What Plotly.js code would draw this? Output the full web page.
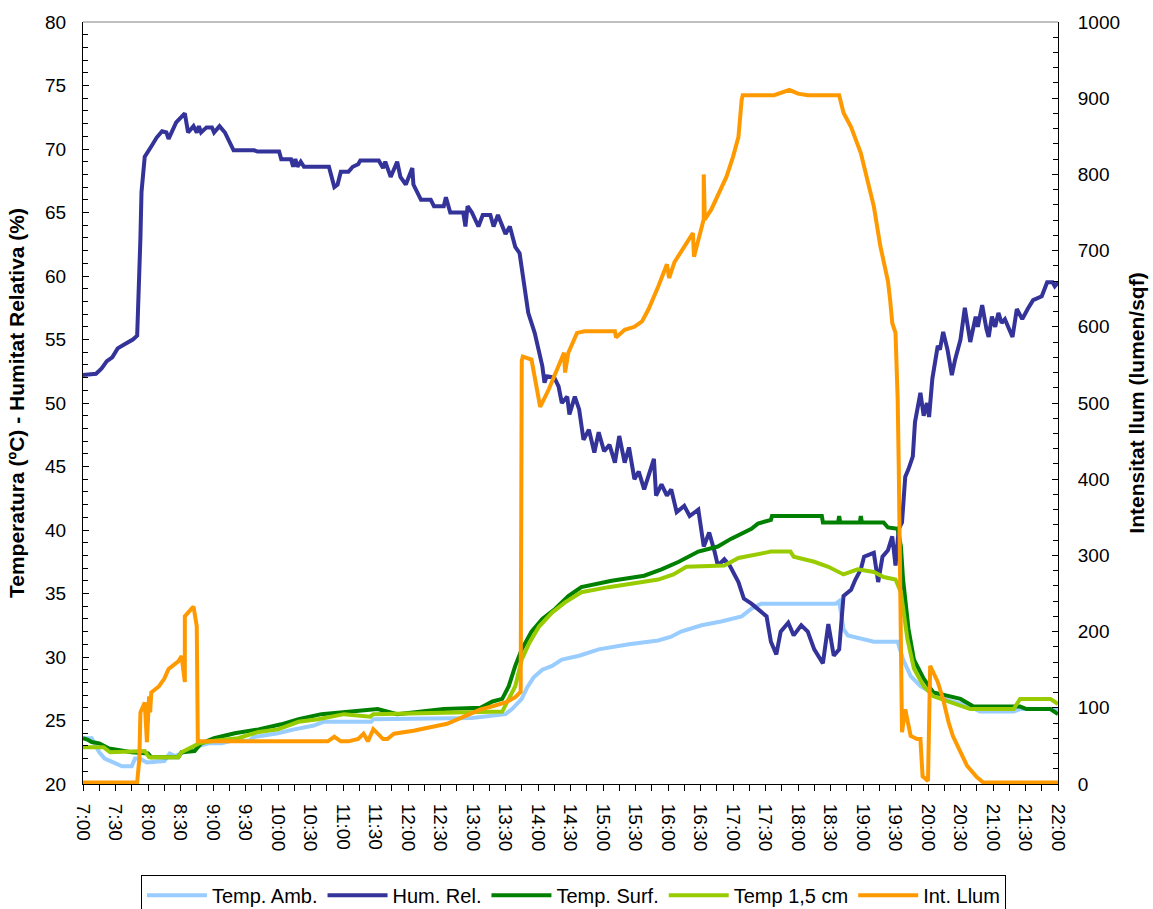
<!DOCTYPE html>
<html><head><meta charset="utf-8">
<script src="https://cdn.plot.ly/plotly-3.0.1.min.js"></script>
<style>html,body{margin:0;padding:0;background:#fff}</style>
</head><body><div id="chart" style="width:1153px;height:909px"></div>
<script>
const tickLabels = ["7:00","7:30","8:00","8:30","9:00","9:30","10:00","10:30","11:00","11:30","12:00","12:30","13:00","13:30","14:00","14:30","15:00","15:30","16:00","16:30","17:00","17:30","18:00","18:30","19:00","19:30","20:00","20:30","21:00","21:30","22:00"];

const ambTime = ["7:00","7:08","7:15","7:20","7:28","7:36","7:45","7:48","7:52","7:59","8:15","8:20","8:25","8:31","8:37","8:47","8:56","9:08","9:17","9:33","9:38","10:00","10:15","10:33","10:42","11:26","11:28","12:59","13:30","13:36","13:45","13:50","13:56","14:04","14:13","14:22","14:38","14:56","15:24","15:51","16:03","16:12","16:31","16:49","17:08","17:17","17:26","18:35","18:38","18:42","18:46","19:10","19:32","19:37","19:44","19:53","20:14","20:36","20:48","21:19","21:25","22:00"];
const ambVal = [23.6,23.6,22.5,22.0,21.7,21.4,21.4,22.0,22.0,21.7,21.8,22.4,22.2,22.4,22.6,23.0,23.2,23.2,23.4,23.4,23.7,24.0,24.3,24.6,24.9,24.9,25.1,25.2,25.5,25.9,26.7,27.6,28.4,29.0,29.3,29.8,30.1,30.6,31.0,31.3,31.6,32.0,32.5,32.8,33.2,33.8,34.2,34.2,34.4,32.2,31.7,31.2,31.2,29.8,28.5,27.7,26.7,26.2,25.7,25.7,25.9,25.9];

const humTime = ["7:00","7:12","7:17","7:22","7:27","7:32","7:38","7:46","7:50","7:51","7:52","7:53","7:54","7:57","8:03","8:08","8:13","8:17","8:19","8:22","8:26","8:34","8:37","8:42","8:45","8:47","8:49","8:54","8:59","9:01","9:06","9:11","9:15","9:19","9:38","9:41","10:01","10:03","10:12","10:14","10:16","10:18","10:21","10:24","10:47","10:52","10:55","10:58","11:05","11:09","11:14","11:16","11:33","11:37","11:39","11:44","11:50","11:53","11:58","12:04","12:05","12:12","12:21","12:24","12:33","12:35","12:39","12:51","12:53","12:55","12:59","13:05","13:09","13:16","13:19","13:23","13:30","13:34","13:39","13:43","13:51","13:55","13:57","14:04","14:06","14:08","14:15","14:19","14:22","14:27","14:29","14:34","14:38","14:42","14:47","14:52","14:56","15:01","15:06","15:11","15:15","15:20","15:24","15:29","15:33","15:38","15:47","15:49","15:54","15:59","16:03","16:08","16:15","16:20","16:28","16:33","16:38","16:43","16:46","16:52","16:57","17:05","17:10","17:17","17:26","17:31","17:35","17:40","17:44","17:51","17:56","18:03","18:09","18:15","18:23","18:28","18:33","18:38","18:42","18:49","18:53","18:58","19:01","19:10","19:14","19:18","19:23","19:27","19:30","19:33","19:36","19:39","19:42","19:46","19:48","19:53","19:56","19:59","20:01","20:04","20:09","20:11","20:14","20:18","20:22","20:25","20:30","20:34","20:39","20:44","20:46","20:50","20:54","20:56","20:59","21:02","21:05","21:08","21:11","21:16","21:18","21:22","21:27","21:32","21:37","21:45","21:50","21:55","21:57","22:00"];
const humVal = [52.2,52.3,52.7,53.3,53.6,54.3,54.6,55.0,55.3,57.5,59.7,63.0,66.6,69.4,70.2,70.9,71.4,71.3,70.8,71.4,72.1,72.8,71.3,71.8,71.3,71.8,71.3,71.7,71.7,71.3,71.8,71.3,70.5,69.9,69.9,69.8,69.8,69.2,69.2,68.6,69.2,68.6,69.0,68.6,68.6,67.0,67.2,68.2,68.2,68.6,68.8,69.1,69.1,68.5,69.0,67.8,69.0,67.8,67.2,68.5,67.2,66.0,66.0,65.5,65.5,66.2,65.0,65.0,63.9,65.5,65.0,63.9,64.8,64.8,63.9,64.8,63.3,63.9,62.3,61.8,57.1,56.0,55.5,52.9,51.6,52.1,52.0,51.3,50.0,50.5,49.1,50.5,49.5,47.1,47.9,46.1,47.7,46.2,46.7,45.3,47.4,45.3,46.5,44.0,44.6,43.2,45.6,42.7,43.6,42.7,43.2,41.4,41.9,41.1,41.6,38.7,39.8,38.3,37.2,37.7,37.2,35.9,34.6,34.2,33.5,33.2,31.2,30.2,32.0,32.7,31.7,32.5,32.0,30.6,29.5,32.6,30.1,30.6,34.8,35.3,36.1,36.9,37.9,38.2,35.9,37.9,38.4,39.5,37.2,40.1,40.6,44.2,44.8,45.8,48.5,50.8,49.0,50.0,48.9,51.9,54.5,54.2,55.6,54.2,52.2,53.4,55.0,57.5,54.8,56.8,56.0,57.7,55.8,55.2,56.8,56.0,57.1,56.3,56.6,55.5,55.2,57.4,56.6,57.4,58.1,58.4,59.5,59.5,59.2,59.5];

const surfTime = ["7:00","7:04","7:08","7:15","7:24","7:45","8:00","8:03","8:28","8:31","8:43","8:49","9:01","9:20","9:42","10:03","10:19","10:40","11:32","11:50","12:33","13:07","13:18","13:27","13:33","13:39","13:45","13:54","14:04","14:16","14:28","14:40","15:08","15:38","15:54","16:10","16:28","16:46","16:58","17:10","17:17","17:23","17:35","17:36","18:22","18:23","18:37","18:38","18:39","18:57","18:58","18:59","19:19","19:23","19:32","19:35","19:37","19:42","19:47","19:56","20:05","20:30","20:42","21:25","21:31","21:53","22:00"];
const surfVal = [23.6,23.5,23.3,23.2,22.8,22.5,22.4,22.1,22.1,22.5,22.6,23.2,23.6,24.0,24.3,24.7,25.1,25.5,25.9,25.5,25.9,26.0,26.5,26.7,27.7,29.3,30.6,32.0,33.0,33.8,34.8,35.5,36.0,36.4,36.9,37.5,38.3,38.7,39.3,39.8,40.1,40.5,40.8,41.1,41.1,40.6,40.6,41.1,40.6,40.6,41.1,40.6,40.6,40.2,40.1,38.7,36.1,32.2,29.8,28.3,27.2,26.7,26.1,26.1,25.9,25.9,25.5];

const t15Time = ["7:00","7:19","7:25","7:57","8:01","8:28","8:31","8:40","8:47","9:01","9:23","9:42","10:00","10:19","10:37","11:01","11:25","11:28","13:27","13:33","13:39","13:45","13:52","14:01","14:13","14:25","14:40","15:05","15:38","15:51","16:05","16:17","16:52","17:05","17:29","17:35","17:53","17:56","18:15","18:28","18:42","18:55","19:10","19:19","19:30","19:35","19:41","19:47","19:56","20:05","20:39","21:19","21:25","21:53","22:00"];
const t15Val = [22.9,22.9,22.5,22.6,22.1,22.1,22.5,22.9,23.2,23.4,23.6,24.1,24.3,24.9,25.1,25.5,25.3,25.5,25.7,26.7,27.7,29.8,31.1,32.4,33.5,34.3,35.1,35.5,35.9,36.1,36.5,37.1,37.2,37.8,38.2,38.3,38.3,37.9,37.5,37.1,36.5,36.9,36.7,36.3,36.1,35.1,31.4,29.1,27.7,26.9,25.9,25.9,26.7,26.7,26.3];

const llumTime = ["7:00","7:50","7:52","7:53","7:57","7:59","8:01","8:02","8:03","8:10","8:15","8:19","8:28","8:31","8:34","8:34","8:42","8:45","8:46","10:46","10:52","10:58","11:05","11:14","11:19","11:23","11:28","11:32","11:37","11:41","11:47","12:05","12:21","12:36","12:51","13:07","13:18","13:30","13:39","13:44","13:45","13:46","13:54","14:02","14:10","14:19","14:24","14:25","14:28","14:36","14:43","14:56","15:11","15:12","15:20","15:29","15:36","15:42","15:47","15:51","15:59","16:01","16:06","16:14","16:23","16:24","16:29","16:33","16:33","16:34","16:40","16:47","16:54","17:00","17:05","17:08","17:09","17:38","17:44","17:52","18:00","18:09","18:38","18:42","18:49","18:55","18:58","19:04","19:10","19:16","19:23","19:25","19:27","19:30","19:32","19:33","19:34","19:35","19:36","19:39","19:44","19:50","19:53","19:55","20:00","20:02","20:09","20:14","20:19","20:23","20:30","20:36","20:45","20:51","22:00"];
const llumVal = [2,2,33,94,107,55,115,94,120,128,138,151,161,168,134,220,233,207,56,56,62,56,56,59,66,56,72,66,59,59,66,70,75,79,88,98,102,107,114,121,555,561,557,495,518,548,566,540,566,592,594,594,594,586,596,600,607,623,638,653,682,664,685,704,723,692,718,741,800,741,754,776,797,823,849,898,904,904,907,911,906,904,904,881,862,841,828,793,758,706,660,636,605,592,505,417,300,102,68,98,63,59,59,10,4,155,134,111,81,63,42,24,9,2,2];

const seriesNames = ["Temp. Amb.","Hum. Rel.","Temp. Surf.","Temp 1,5 cm","Int. Llum"];
const seriesColors = ["#99CCFF","#333399","#008000","#99CC00","#FF9900"];

function toH(s){ const p = s.split(':'); return Number(p[0]) + Number(p[1])/60; }

const xs = [ambTime, humTime, surfTime, t15Time, llumTime];
const ys = [ambVal, humVal, surfVal, t15Val, llumVal];

const traces = xs.map((tx, i) => ({
  type: 'scatter', mode: 'lines', name: seriesNames[i],
  x: tx.map(toH), y: ys[i],
  yaxis: i === 4 ? 'y2' : 'y',
  line: {color: seriesColors[i], width: 4},
  hoverinfo: 'skip'
}));

// x ticks every 15 minutes, labels every 30 minutes
const tv = [], tt = [];
tickLabels.forEach((lab, i) => {
  tv.push(toH(lab)); tt.push(lab);
  if (i < tickLabels.length - 1) { tv.push(toH(lab) + 0.25); tt.push(''); }
});

const F = 'Arial, "Liberation Sans", sans-serif';
const layout = {
  width: 1153, height: 909,
  margin: {l: 83, r: 95, t: 22, b: 125, autoexpand: false},
  paper_bgcolor: '#fff', plot_bgcolor: '#fff',
  font: {family: F, size: 19, color: '#000'},
  showlegend: true,
  legend: {orientation: 'h', x: 0.503, xanchor: 'center', y: -0.119, yanchor: 'top',
           bordercolor: '#000', borderwidth: 1, font: {family: F, size: 20, color: '#000'},
           traceorder: 'normal', itemwidth: 60, tracegroupgap: 0},
  xaxis: {range: [7, 22], tickmode: 'array', tickvals: tv, ticktext: tt, tickangle: 90,
          ticks: 'outside', ticklen: 6, tickcolor: '#000', showline: true, linecolor: '#000', linewidth: 1,
          showgrid: false, zeroline: false, tickfont: {family: F, size: 19}, ticklabelstandoff: 9},
  yaxis: {range: [20, 80], dtick: 5, tick0: 20, ticks: 'inside', ticklen: 6, tickcolor: '#000',
          minor: {dtick: 1, ticks: 'inside', ticklen: 5, tickcolor: '#000', showgrid: false},
          showline: true, linecolor: '#000', linewidth: 1, showgrid: false, zeroline: false,
          tickfont: {family: F, size: 19}, ticklabelstandoff: 12,
          title: {text: 'Temperatura (ºC) - Humitat Relativa (%)', font: {family: F, size: 21, weight: 'bold'}, standoff: 14}},
  yaxis2: {range: [0, 1000], dtick: 100, tick0: 0, overlaying: 'y', side: 'right',
           ticks: 'inside', ticklen: 6, tickcolor: '#000',
           minor: {dtick: 20, ticks: 'inside', ticklen: 5, tickcolor: '#000', showgrid: false},
           showline: true, linecolor: '#000', linewidth: 1, showgrid: false, zeroline: false,
           tickfont: {family: F, size: 19}, ticklabelstandoff: 15,
           title: {text: 'Intensitat llum (lumen/sqf)', font: {family: F, size: 21, weight: 'bold'}, standoff: 10}},
  shapes: [{type: 'line', xref: 'paper', yref: 'paper', x0: 0, x1: 1, y0: 1, y1: 1,
            line: {color: '#808080', width: 1}}]
};

Plotly.newPlot('chart', traces, layout, {displayModeBar: false, staticPlot: true});
</script>
</body></html>
